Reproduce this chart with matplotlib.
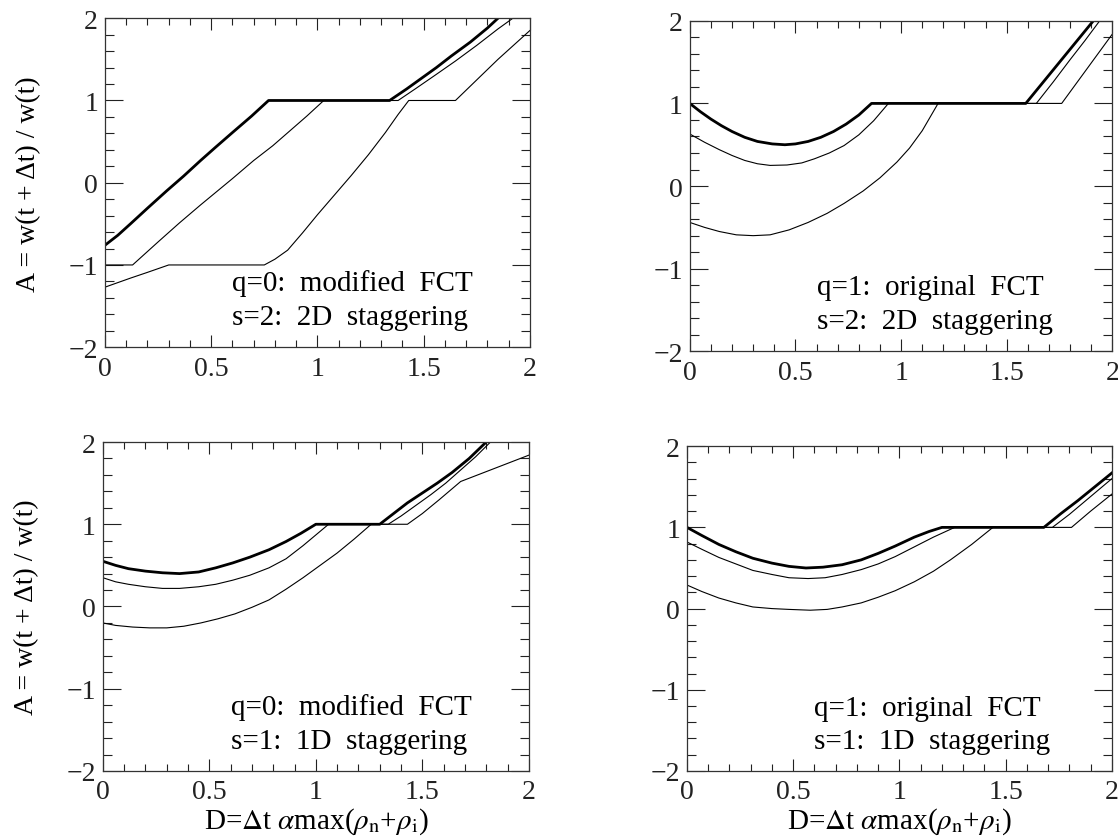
import matplotlib
matplotlib.use("Agg")
import matplotlib.pyplot as plt
from matplotlib.ticker import MultipleLocator

plt.rcParams['font.family'] = ['Liberation Serif', 'DejaVu Serif']
plt.rcParams['mathtext.fontset'] = 'stix'

# ---- q=0, s=2 (arriba izquierda) ----
tl_thick_d = [0, 0.06, 0.12, 0.2, 0.29, 0.37, 0.45, 0.52, 0.6, 0.69, 0.77, 1.34, 1.42, 1.49, 1.56, 1.63, 1.72, 1.80, 1.85]
tl_thick_a = [-0.76, -0.64, -0.50, -0.31, -0.10, 0.08, 0.27, 0.43, 0.61, 0.81, 1.0, 1.0, 1.14, 1.27, 1.40, 1.54, 1.71, 1.88, 2.0]
tl_mid_d = [0, 0.13, 0.25, 0.35, 0.45, 0.6, 0.7, 0.79, 0.87, 0.95, 1.03, 1.38, 1.46, 1.55, 1.65, 1.75, 1.85, 1.92]
tl_mid_a = [-1.0, -1.0, -0.72, -0.49, -0.27, 0.05, 0.27, 0.45, 0.63, 0.81, 1.0, 1.0, 1.14, 1.30, 1.48, 1.67, 1.87, 2.0]
tl_low_d = [0, 0.12, 0.2, 0.3, 0.75, 0.8, 0.86, 0.93, 1.0, 1.08, 1.16, 1.24, 1.32, 1.38, 1.43, 1.65, 1.75, 1.85, 2.0]
tl_low_a = [-1.27, -1.16, -1.09, -1.0, -1.0, -0.93, -0.82, -0.61, -0.39, -0.15, 0.09, 0.34, 0.61, 0.83, 1.0, 1.0, 1.25, 1.50, 1.85]

# ---- q=1, s=2 (arriba derecha) ----
tr_thick_d = [0, 0.05, 0.1, 0.15, 0.2, 0.26, 0.32, 0.39, 0.45, 0.5, 0.56, 0.62, 0.68, 0.74, 0.8, 0.86, 1.59, 1.67, 1.75, 1.83, 1.91]
tr_thick_a = [1.0, 0.90, 0.81, 0.73, 0.66, 0.59, 0.54, 0.51, 0.50, 0.51, 0.54, 0.59, 0.66, 0.75, 0.86, 1.0, 1.0, 1.25, 1.50, 1.75, 2.0]
tr_mid_d = [0, 0.07, 0.14, 0.2, 0.26, 0.32, 0.38, 0.46, 0.53, 0.59, 0.66, 0.73, 0.8, 0.87, 0.94, 1.64, 1.72, 1.8, 1.87, 1.94]
tr_mid_a = [0.63, 0.53, 0.44, 0.37, 0.31, 0.27, 0.25, 0.255, 0.28, 0.33, 0.40, 0.49, 0.62, 0.79, 1.0, 1.0, 1.26, 1.53, 1.76, 2.0]
tr_low_d = [0, 0.07, 0.14, 0.22, 0.3, 0.38, 0.47, 0.56, 0.65, 0.73, 0.82, 0.9, 0.98, 1.04, 1.1, 1.175, 1.76, 1.88, 2.0]
tr_low_a = [-0.44, -0.50, -0.55, -0.59, -0.60, -0.59, -0.53, -0.44, -0.33, -0.21, -0.06, 0.10, 0.29, 0.46, 0.67, 1.0, 1.0, 1.42, 1.84]

# ---- q=0, s=1 (abajo izquierda) ----
bl_thick_d = [0, 0.06, 0.12, 0.2, 0.28, 0.36, 0.45, 0.53, 0.61, 0.69, 0.78, 0.86, 0.93, 1.0, 1.30, 1.36, 1.43, 1.5, 1.57, 1.64, 1.72, 1.8]
bl_thick_a = [0.55, 0.50, 0.46, 0.43, 0.41, 0.40, 0.42, 0.47, 0.53, 0.60, 0.69, 0.79, 0.89, 1.0, 1.0, 1.12, 1.26, 1.38, 1.50, 1.63, 1.80, 2.0]
bl_mid_d = [0, 0.06, 0.12, 0.2, 0.28, 0.36, 0.45, 0.53, 0.61, 0.69, 0.78, 0.86, 0.94, 1.0, 1.06, 1.34, 1.4, 1.47, 1.54, 1.61, 1.68, 1.75, 1.82]
bl_mid_a = [0.35, 0.30, 0.27, 0.24, 0.22, 0.22, 0.24, 0.27, 0.32, 0.38, 0.47, 0.58, 0.74, 0.87, 1.0, 1.0, 1.10, 1.23, 1.36, 1.50, 1.66, 1.82, 2.0]
bl_low_d = [0, 0.06, 0.14, 0.22, 0.3, 0.38, 0.46, 0.54, 0.62, 0.7, 0.78, 0.86, 0.94, 1.02, 1.1, 1.18, 1.26, 1.43, 1.5, 1.58, 1.68, 1.84, 2.0]
bl_low_a = [-0.20, -0.23, -0.25, -0.26, -0.26, -0.24, -0.20, -0.15, -0.09, -0.01, 0.08, 0.21, 0.35, 0.50, 0.65, 0.82, 1.0, 1.0, 1.13, 1.30, 1.52, 1.68, 1.84]

# ---- q=1, s=1 (abajo derecha) ----
br_thick_d = [0, 0.07, 0.15, 0.23, 0.31, 0.4, 0.48, 0.56, 0.64, 0.73, 0.82, 0.9, 0.98, 1.07, 1.14, 1.2, 1.68, 1.76, 1.84, 1.92, 2.0]
br_thick_a = [1.0, 0.90, 0.79, 0.70, 0.62, 0.56, 0.52, 0.50, 0.51, 0.54, 0.60, 0.68, 0.77, 0.88, 0.95, 1.0, 1.0, 1.17, 1.33, 1.50, 1.67]
br_mid_d = [0, 0.07, 0.15, 0.23, 0.31, 0.4, 0.48, 0.57, 0.65, 0.73, 0.82, 0.9, 0.98, 1.07, 1.16, 1.26, 1.72, 1.8, 1.9, 2.0]
br_mid_a = [0.82, 0.73, 0.63, 0.55, 0.47, 0.42, 0.38, 0.37, 0.38, 0.42, 0.48, 0.55, 0.64, 0.76, 0.88, 1.0, 1.0, 1.16, 1.38, 1.60]
br_low_d = [0, 0.07, 0.15, 0.23, 0.31, 0.4, 0.48, 0.58, 0.66, 0.73, 0.82, 0.9, 0.98, 1.07, 1.16, 1.24, 1.34, 1.44, 1.81, 1.9, 2.0]
br_low_a = [0.29, 0.21, 0.13, 0.07, 0.02, 0.0, -0.01, -0.02, -0.01, 0.02, 0.07, 0.14, 0.22, 0.33, 0.46, 0.60, 0.79, 1.0, 1.0, 1.2, 1.41]

xticks = [0, 0.5, 1, 1.5, 2]
xlabels = ['0', '0.5', '1', '1.5', '2']
yticks = [-2, -1, 0, 1, 2]
ylabels = ['\u22122', '\u22121', '0', '1', '2']

textos = {
    'tl': ('q=0:  modified  FCT', 's=2:  2D  staggering'),
    'tr': ('q=1:  original  FCT', 's=2:  2D  staggering'),
    'bl': ('q=0:  modified  FCT', 's=1:  1D  staggering'),
    'br': ('q=1:  original  FCT', 's=1:  1D  staggering'),
}

fig = plt.figure(figsize=(11.18, 8.37), dpi=100)
ejes = {
    'tl': fig.add_axes([0.0939, 0.584, 0.380, 0.393]),
    'tr': fig.add_axes([0.617, 0.579, 0.378, 0.395]),
    'bl': fig.add_axes([0.092, 0.0777, 0.381, 0.393]),
    'br': fig.add_axes([0.6145, 0.0777, 0.380, 0.388]),
}
curvas = {
    'tl': [(tl_thick_d, tl_thick_a), (tl_mid_d, tl_mid_a), (tl_low_d, tl_low_a)],
    'tr': [(tr_thick_d, tr_thick_a), (tr_mid_d, tr_mid_a), (tr_low_d, tr_low_a)],
    'bl': [(bl_thick_d, bl_thick_a), (bl_mid_d, bl_mid_a), (bl_low_d, bl_low_a)],
    'br': [(br_thick_d, br_thick_a), (br_mid_d, br_mid_a), (br_low_d, br_low_a)],
}

for clave, ax in ejes.items():
    for i, (d, a) in enumerate(curvas[clave]):
        ax.plot(d, a, color='black', lw=2.0 if i == 0 else 0.8, solid_joinstyle='round')
    ax.set_xlim(0, 2)
    ax.set_ylim(-2, 2)
    ax.set_xticks(xticks)
    ax.set_xticklabels(xlabels)
    ax.set_yticks(yticks)
    ax.set_yticklabels(ylabels)
    ax.xaxis.set_minor_locator(MultipleLocator(0.1))
    ax.yaxis.set_minor_locator(MultipleLocator(0.2))
    ax.tick_params(which='both', direction='in', top=True, right=True, width=0.8, colors='#222222', labelsize=20)
    ax.tick_params(axis='x', which='major', length=8.5, pad=6)
    ax.tick_params(axis='x', which='minor', length=5)
    ax.tick_params(axis='y', which='major', length=13, pad=5)
    ax.tick_params(axis='y', which='minor', length=6.5)
    for s in ax.spines.values():
        s.set_linewidth(0.9)
        s.set_color('#333333')
    l1, l2 = textos[clave]
    ax.text(0.60, -1.31, l1, fontsize=21, va='baseline')
    ax.text(0.60, -1.72, l2, fontsize=21, va='baseline')

for clave in ('tl', 'bl'):
    ejes[clave].set_ylabel('A = w(t + \u0394t) / w(t)', fontsize=20)
    ejes[clave].yaxis.set_label_coords(-0.15, 0.5)
for clave in ('bl', 'br'):
    ejes[clave].set_xlabel(r'D=$\Delta$t $\alpha$max($\rho_{\rm n}$+$\rho_{\rm i}$)', fontsize=21)
    ejes[clave].xaxis.set_label_coords(0.5, -0.105)

fig.savefig('out.png', dpi=100)
